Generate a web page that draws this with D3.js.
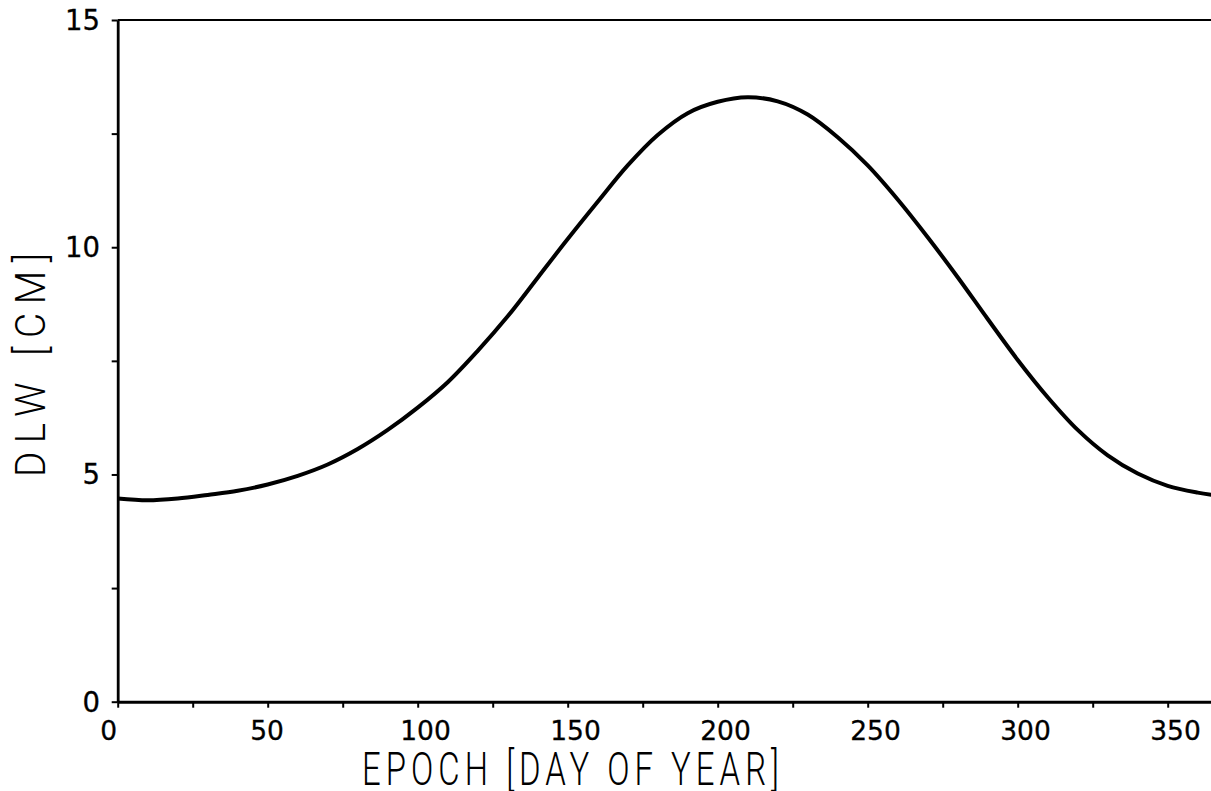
<!DOCTYPE html>
<html>
<head>
<meta charset="utf-8">
<script src="https://cdn.jsdelivr.net/npm/d3@7"></script>
<style>
  body { margin: 0; background: #fff; overflow: hidden; }
  svg { display: block; }
</style>
</head>
<body>
<svg id="chart" width="1211" height="791"></svg>
<script>
// day of year vs DLW (cm)
var days = [0, 10, 20, 30, 40, 50, 60, 70, 80, 90, 100, 110, 120, 130, 140, 150, 160, 170, 180,
            190, 200, 210, 220, 230, 240, 250, 260, 270, 280, 290, 300, 310, 320, 330, 340, 350, 360, 365];
var dlw = [4.47, 4.43, 4.47, 4.55, 4.64, 4.78, 4.97, 5.22, 5.56, 5.98, 6.47, 7.03, 7.72, 8.48, 9.33, 10.18, 11.0, 11.8, 12.47,
           12.95, 13.2, 13.3, 13.21, 12.92, 12.42, 11.8, 11.05, 10.22, 9.34, 8.42, 7.52, 6.7, 5.98, 5.42, 5.02, 4.75, 4.6, 4.55];

var xTicks = d3.range(0, 351, 25);
var xLabels = [0, 50, 100, 150, 200, 250, 300, 350];
var yTicks = [0, 2.5, 5, 7.5, 10, 12.5, 15];
var yLabels = [0, 5, 10, 15];

var xTitle = "EPOCH [DAY OF YEAR]";
var yTitle = "DLW [CM]";

var svg = d3.select("#chart");

var x = d3.scaleLinear().domain([0, 365]).range([117.7, 1212.7]);
var y = d3.scaleLinear().domain([0, 15]).range([701.7, 20]);

var tickFont = "'DejaVu Sans', sans-serif";
var titleFont = "Roboto, 'DejaVu Sans', sans-serif";

// frame: top line + (off-screen) right side
svg.append("path")
    .attr("d", "M" + x(0) + "," + y(15) + "H" + x(365) + "V" + y(0))
    .attr("fill", "none")
    .attr("stroke", "#000")
    .attr("stroke-width", 2.2);

// x axis
var gx = svg.append("g")
    .attr("transform", "translate(0," + y(0) + ")")
    .call(d3.axisBottom(x).tickValues(xTicks).tickSize(6).tickSizeOuter(0).tickFormat(""));
gx.select(".domain").attr("stroke-width", 3);
gx.selectAll(".tick line").attr("stroke-width", 2);

svg.append("g").selectAll("text")
    .data(xLabels)
    .join("text")
    .attr("x", function (d) { return x(d) - 17.5; })
    .attr("y", 740)
    .attr("text-anchor", "start")
    .style("font-family", tickFont)
    .style("font-size", "26.5px")
    .style("stroke", "#000")
    .style("stroke-width", 0.3)
    .text(function (d) { return d; });

// y axis
var gy = svg.append("g")
    .attr("transform", "translate(" + x(0) + ",0)")
    .call(d3.axisLeft(y).tickValues(yTicks).tickSize(6).tickSizeOuter(0).tickFormat(""));
gy.select(".domain").attr("stroke-width", 2.8);
gy.selectAll(".tick line").attr("stroke-width", 2);

svg.append("g").selectAll("text")
    .data(yLabels)
    .join("text")
    .attr("x", 100)
    .attr("y", function (d) { return y(d) + 10; })
    .attr("text-anchor", "end")
    .style("font-family", tickFont)
    .style("font-size", "27.5px")
    .style("stroke", "#000")
    .style("stroke-width", 0.3)
    .text(function (d) { return d; });

// axis titles (plotter lettering: tall, narrow, widely spaced)
svg.append("g")
    .attr("transform", "translate(362,785) scale(0.7,1)")
    .append("text")
    .attr("textLength", 417 / 0.7)
    .attr("lengthAdjust", "spacing")
    .style("font-family", titleFont)
    .style("font-weight", 300)
    .style("font-size", "47px")
    .text(xTitle);

svg.append("g")
    .attr("transform", "translate(45,477) rotate(-90) scale(0.92,1)")
    .append("text")
    .attr("textLength", 224 / 0.92)
    .attr("lengthAdjust", "spacing")
    .style("font-family", titleFont)
    .style("font-weight", 300)
    .style("font-size", "42px")
    .text(yTitle);

// the curve
var line = d3.line()
    .x(function (d, i) { return x(days[i]); })
    .y(function (d) { return y(d); })
    .curve(d3.curveCatmullRom.alpha(0.5));

svg.append("path")
    .datum(dlw)
    .attr("d", line)
    .attr("fill", "none")
    .attr("stroke", "#000")
    .attr("stroke-width", 4)
    .attr("stroke-linejoin", "round");
</script>
</body>
</html>
